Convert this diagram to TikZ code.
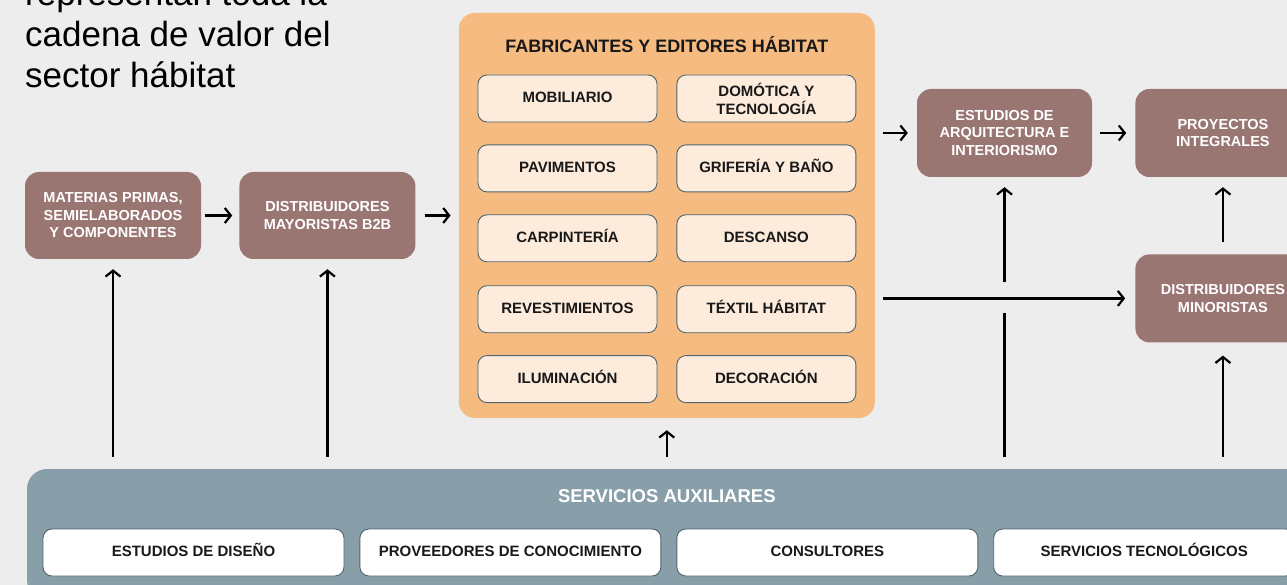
\documentclass[tikz,border=0pt]{standalone}
\usepackage{fontspec}
\setmainfont{Liberation Sans}
\usetikzlibrary{positioning,arrows.meta,calc}
\definecolor{bggray}{HTML}{EDEDED}
\definecolor{mauve}{HTML}{9A7673}
\definecolor{orangebox}{HTML}{F6BB80}
\definecolor{creambox}{HTML}{FDEBDC}
\definecolor{slateedge}{HTML}{4D6570}
\definecolor{bluegrey}{HTML}{889FA9}
\tikzset{stage/.style={fill=mauve, rounded corners=14pt, text=white, align=center, minimum width=176pt, minimum height=87pt, font=\bfseries\fontsize{14.5}{17.5}\selectfont}}
\tikzset{box/.style={fill=creambox, draw=slateedge, line width=0.9pt, rounded corners=9pt, align=center, minimum width=179pt, minimum height=47pt, font=\bfseries\fontsize{15}{18}\selectfont, text=black!90}}
\tikzset{onebox/.style={box, text height=11pt, text depth=3pt}}
\tikzset{auxbox/.style={onebox, fill=white, minimum width=301pt}}
\tikzset{line/.style={draw, line width=2.2pt, -{Straight Barb[length=6pt, width=15pt]}}}

\begin{document}
\begin{tikzpicture}[x=1pt, y=1pt]
		\fill [bggray] (0,0) rectangle (1287,-585);
		\useasboundingbox (0,0) rectangle (1287,-585);

		\node [anchor=base west, align=left, inner sep=0pt, font=\fontsize{35}{41}\selectfont]	(T) at (25,-88) {representan toda la\\cadena de valor del\\sector hábitat};

		% cadena principal
		\node [stage] at (113,-215.5)							(1) {MATERIAS PRIMAS,\\SEMIELABORADOS\\Y COMPONENTES};
		\node [stage, right=38pt of 1]							(2) {DISTRIBUIDORES\\MAYORISTAS B2B};
		\node [fill=orangebox, rounded corners=16pt, minimum width=416pt, minimum height=405pt, right=43pt of 2]	(3) {};
		\node [font=\bfseries\fontsize{18}{20}\selectfont, below=20pt of 3.north, text=black!90]		(3t) {FABRICANTES Y EDITORES HÁBITAT};
		\node [stage, minimum width=175pt, minimum height=88pt] at (1004.5,-133)	(4) {ESTUDIOS DE\\ARQUITECTURA E\\INTERIORISMO};
		\node [stage, minimum width=175pt, minimum height=88pt, right=43pt of 4]	(5) {PROYECTOS\\INTEGRALES};
		\node [stage, minimum width=175pt, minimum height=88pt, below=77pt of 5]	(6) {DISTRIBUIDORES\\MINORISTAS};

		% fabricantes
		\node [onebox] at (567.5,-98.5)			(a) {MOBILIARIO};
		\node [box, right=19pt of a]			(b) {DOMÓTICA Y\\TECNOLOGÍA};
		\node [onebox, below=22pt of a]			(c) {PAVIMENTOS};
		\node [onebox, right=19pt of c]			(d) {GRIFERÍA Y BAÑO};
		\node [onebox, below=22pt of c]			(e) {CARPINTERÍA};
		\node [onebox, right=19pt of e]			(f) {DESCANSO};
		\node [onebox, below=23pt of e]			(g) {REVESTIMIENTOS};
		\node [onebox, right=19pt of g]			(h) {TÉXTIL HÁBITAT};
		\node [onebox, below=22pt of g]			(i) {ILUMINACIÓN};
		\node [onebox, right=19pt of i]			(j) {DECORACIÓN};

		% servicios
		\node [fill=bluegrey, rounded corners=20pt, minimum width=1283pt, minimum height=131pt] at (668.5,-534.5)	(7) {};
		\node [font=\bfseries\fontsize{18.5}{20}\selectfont, text=white, below=17pt of 7.north -| 3]	(7t) {SERVICIOS AUXILIARES};
		\node [auxbox] at (193.5,-552.5)		(s1) {ESTUDIOS DE DISEÑO};
		\node [auxbox, right=15pt of s1]		(s2) {PROVEEDORES DE CONOCIMIENTO};
		\node [auxbox, right=15pt of s2]		(s3) {CONSULTORES};
		\node [auxbox, right=15pt of s3]		(s4) {SERVICIOS TECNOLÓGICOS};

		\path [line, shorten <=4pt, shorten >=7pt] (1) -- (2);
		\path [line, shorten <=9pt, shorten >=8pt] (2) -- (2 -| 3.west);
		\path [line, shorten <=8pt, shorten >=9pt] (3.east |- 4) -- (4);
		\path [line, shorten <=8pt, shorten >=9pt] (4) -- (5);
		\path [line, shorten <=8pt, shorten >=10pt] (3.east |- 6) -- (6);
		\path [line, shorten <=12pt, shorten >=10pt] (6) -- (5);

		\path [line, shorten <=12pt, shorten >=10pt] (7.north -| 1) -- (1);
		\path [line, shorten <=12pt, shorten >=10pt] (7.north -| 2) -- (2);
		\path [line, shorten <=12pt, shorten >=12pt] (7.north -| 3) -- (3);
		\path [line, shorten <=12pt, shorten >=13pt] (7.north -| 6) -- (6);
		\draw [line width=2.2pt] ($(7.north -| 4)+(0,12)$) -- ($(4 |- 6)+(0,-15)$);
		\path [line, shorten >=10pt] ($(4 |- 6)+(0,16)$) -- (4);
	\end{tikzpicture}
\end{document}
